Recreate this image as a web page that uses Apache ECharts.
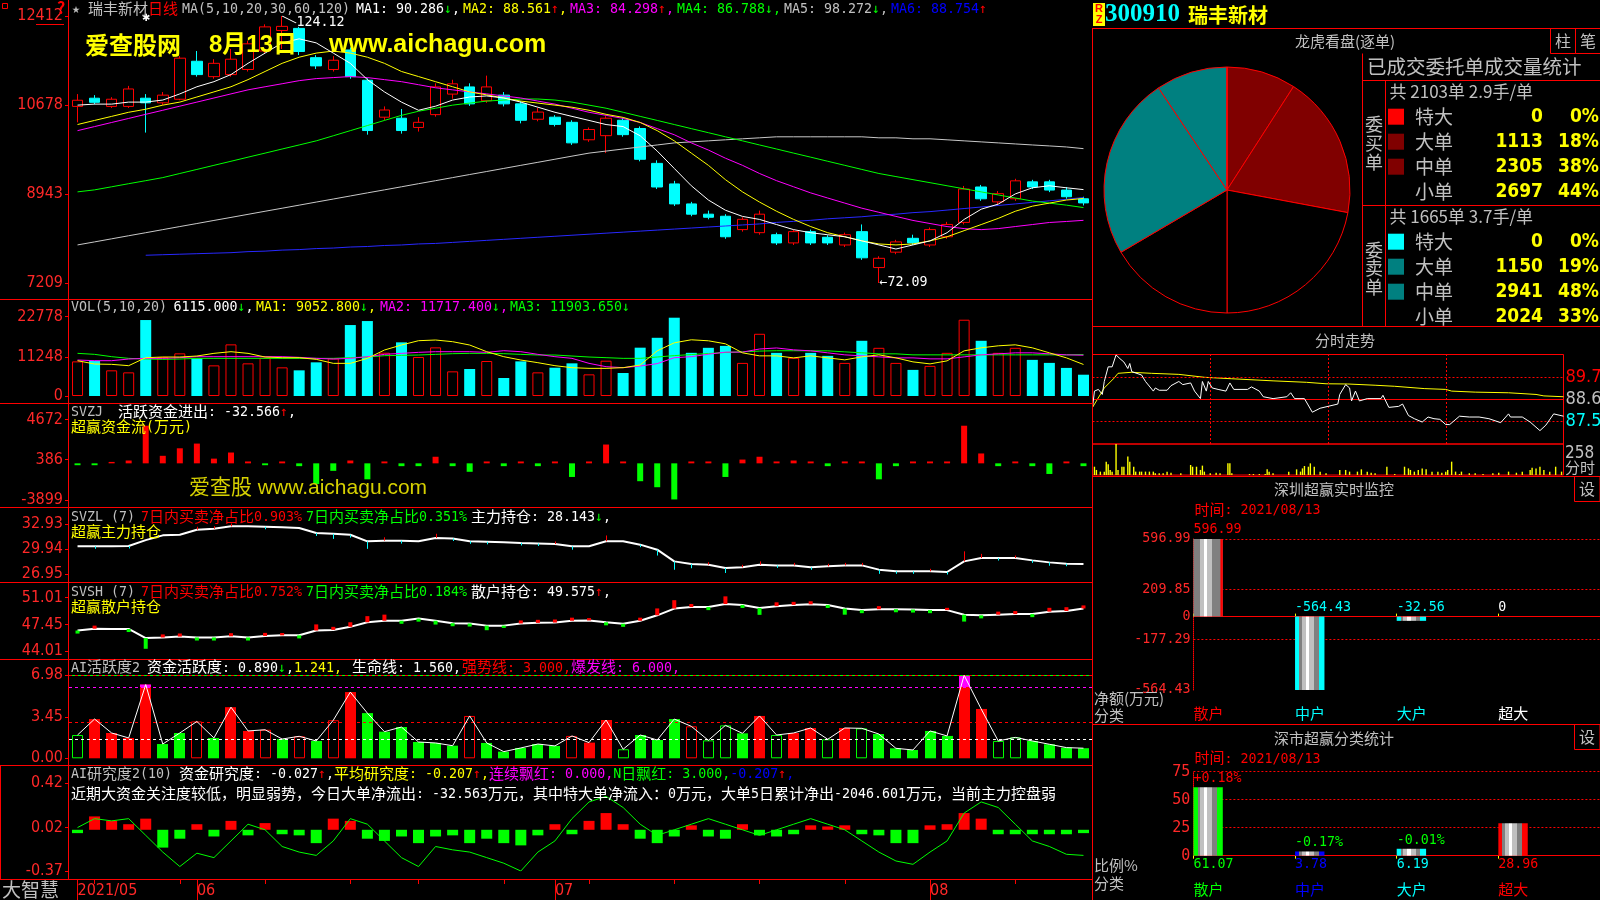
<!DOCTYPE html>
<html><head><meta charset="utf-8">
<script src="https://cdn.jsdelivr.net/npm/echarts@6/dist/echarts.min.js"></script>
<style>html,body{margin:0;padding:0;background:#000;}#main{width:1600px;height:900px;}</style>
</head><body><div id="main"></div>
<script>
// ================= DATA =================
const dates = ['2021-05-21','2021-05-24','2021-05-25','2021-05-26','2021-05-27','2021-05-28','2021-05-31',
'2021-06-01','2021-06-02','2021-06-03','2021-06-04','2021-06-07','2021-06-08','2021-06-09','2021-06-10','2021-06-11','2021-06-15','2021-06-16','2021-06-17','2021-06-18','2021-06-21','2021-06-22','2021-06-23','2021-06-24','2021-06-25','2021-06-28','2021-06-29','2021-06-30',
'2021-07-01','2021-07-02','2021-07-05','2021-07-06','2021-07-07','2021-07-08','2021-07-09','2021-07-12','2021-07-13','2021-07-14','2021-07-15','2021-07-16','2021-07-19','2021-07-20','2021-07-21','2021-07-22','2021-07-23','2021-07-26','2021-07-27','2021-07-28','2021-07-29','2021-07-30',
'2021-08-02','2021-08-03','2021-08-04','2021-08-05','2021-08-06','2021-08-09','2021-08-10','2021-08-11','2021-08-12','2021-08-13'];
// [open, close, low, high]
const kData = [
[106.5,107.7,103.4,108.9],[108.1,107.3,106.9,108.7],[106.5,107.9,106.2,108.3],[106.5,109.9,106.2,110.5],[108.1,107.2,101.4,108.9],
[107.2,108.7,106.8,109.3],[107.9,115.9,107.7,116.3],[115.3,112.7,112.3,117.3],[112.3,114.9,111.9,115.7],[112.7,115.7,112.3,117.7],
[113.7,118.7,113.3,119.3],[117.3,122.0,116.9,122.5],[121.3,122.1,117.7,124.12],[121.7,117.2,116.5,122.0],[116.0,114.4,113.8,116.5],
[113.7,115.5,113.3,116.3],[117.5,112.3,111.9,118.0],[111.6,101.8,101.0,112.0],[104.4,105.8,103.8,106.5],[104.2,101.8,101.2,106.0],
[102.4,103.4,101.6,104.4],[104.9,110.3,104.5,111.0],[108.9,110.9,108.0,111.7],[110.3,107.0,106.6,111.0],[107.6,110.3,107.2,112.5],
[108.7,107.0,106.5,109.3],[107.0,103.8,103.2,107.5],[104.0,105.4,103.6,106.2],[104.4,103.0,102.6,104.8],[103.4,99.4,99.0,103.8],
[100.0,102.0,99.6,102.4],[100.8,104.2,97.4,104.6],[103.8,101.0,100.6,104.2],[102.2,96.2,95.8,102.6],[95.4,90.8,90.4,96.0],
[91.4,87.5,87.1,92.0],[87.5,85.5,85.1,87.9],[85.5,84.9,84.5,86.2],[85.1,81.1,80.7,85.5],[82.5,84.5,82.1,84.9],
[81.9,85.5,81.5,86.2],[81.5,79.9,79.5,81.9],[79.9,82.1,79.5,82.5],[82.1,79.9,79.5,82.5],[81.0,79.9,79.5,81.4],
[79.5,81.5,79.1,81.9],[82.1,77.0,76.6,83.5],[75.1,76.9,72.09,77.3],[78.1,80.1,77.7,80.5],[80.8,79.9,79.5,81.5],
[79.5,82.5,79.1,82.9],[81.1,83.5,80.7,84.0],[83.9,90.4,83.5,91.0],[90.8,88.5,88.1,91.2],[87.9,89.5,87.5,90.0],
[88.5,92.0,88.1,92.4],[91.8,90.8,90.4,92.2],[91.8,90.2,89.8,92.2],[90.2,88.9,88.5,90.8],[88.5,87.7,87.2,88.9]];
const ma5 = [106.75,106.95,106.95,107.34,107.34,107.74,108.94,110.33,111.32,112.71,114.90,116.89,118.88,119.67,118.88,116.89,114.90,111.72,109.33,107.34,105.75,106.55,107.74,108.34,108.54,108.14,107.34,106.35,105.36,104.56,103.77,102.97,102.57,100.78,97.80,94.42,91.04,88.26,86.27,85.07,84.48,83.48,82.49,81.89,81.49,81.10,80.30,79.51,78.71,79.51,80.30,81.89,84.48,86.47,87.46,89.45,90.64,91.04,90.64,90.29];
const ma10 = [102.97,103.77,104.56,105.36,105.95,106.75,107.34,108.34,109.33,110.33,111.72,113.31,114.90,116.09,116.89,117.29,116.89,116.09,114.90,113.31,112.32,111.32,110.33,109.33,108.74,108.14,107.54,107.15,106.75,106.35,105.75,104.96,104.36,103.37,101.78,99.79,97.40,95.02,92.23,89.85,87.86,86.07,84.48,83.09,81.89,81.10,80.30,79.70,79.51,79.70,80.30,81.10,82.29,83.48,84.68,86.07,87.06,87.66,88.26,88.56];
const ma20 = [101.78,102.57,103.37,104.16,104.96,105.75,106.55,107.34,108.14,108.94,109.73,110.33,110.92,111.52,111.92,112.12,112.32,112.12,111.72,111.32,110.73,110.13,109.73,109.33,108.94,108.54,108.14,107.54,106.95,106.15,105.36,104.76,104.16,103.37,102.17,100.98,99.39,98.00,96.41,95.02,93.43,92.03,90.84,89.65,88.65,87.66,86.67,85.87,85.07,84.28,83.68,83.09,82.69,82.49,82.69,83.09,83.48,83.88,84.08,84.30];
const ma30 = [89.85,90.24,90.84,91.44,92.03,92.63,93.43,94.22,95.02,95.81,96.61,97.40,98.20,98.99,99.79,100.78,101.78,102.77,103.77,104.76,105.56,106.15,106.75,107.15,107.54,107.74,107.94,107.94,107.74,107.34,106.75,106.15,105.36,104.56,103.77,102.97,102.17,101.38,100.58,99.79,98.99,98.20,97.40,96.61,95.81,95.02,94.22,93.43,92.83,92.23,91.64,91.04,90.44,89.85,89.25,88.65,88.06,87.66,87.26,86.79];
const ma60 = [79.51,80.10,80.70,81.30,81.89,82.49,83.09,83.68,84.28,84.87,85.47,86.07,86.66,87.26,87.86,88.45,89.05,89.65,90.24,90.84,91.44,92.03,92.63,93.23,93.82,94.42,95.02,95.61,96.21,96.81,97.40,97.80,98.20,98.60,98.99,99.39,99.59,99.79,99.99,100.19,100.38,100.58,100.58,100.58,100.58,100.58,100.58,100.38,100.38,100.19,100.19,99.99,99.79,99.59,99.39,99.19,98.99,98.80,98.60,98.27];
const ma120 = ['-','-','-','-',77.5,77.6,77.7,77.8,77.9,78.0,78.2,78.3,78.5,78.6,78.8,78.9,79.1,79.2,79.4,79.5,79.7,79.8,80.0,80.2,80.4,80.6,80.8,81.0,81.2,81.4,81.6,81.8,82.0,82.2,82.4,82.6,82.8,83.0,83.2,83.4,83.6,83.9,84.1,84.3,84.6,84.8,85.0,85.3,85.5,85.8,86.0,86.3,86.6,86.9,87.2,87.5,87.8,88.1,88.4,88.75];
const maHeader = [['MA1: 90.286','↓'],['MA2: 88.561','↑'],['MA3: 84.298','↑'],['MA4: 86.788','↓'],['MA5: 98.272','↓'],['MA6: 88.754','↑']];

const vol = [9950,10140,7370,6790,21820,11200,12250,10810,8800,14830,9380,11000,8230,7370,9670,10810,20380,21530,12440,15410,11200,13970,7080,7750,10050,5170,9950,6790,8130,9380,6220,10140,6600,13880,16720,22490,12400,13840,14400,9510,17870,12400,10960,12400,11530,9510,15860,13840,9510,7500,8650,12400,21910,15860,12400,13840,10380,9510,8070,6115];
const volMa5 = [10144,9187,9092,8709,11006,11197,11197,11484,12250,12728,12250,11197,11006,11006,10527,9379,9379,10814,13207,14642,15886,16077,15599,14642,12728,11293,10336,9570,8709,8135,7943,7943,8135,8900,12974,15280,16145,15857,14992,12397,11532,11532,10955,11532,10955,10379,11244,11820,10955,9802,9226,10091,12974,13838,14415,14703,13838,12397,10955,9053];
const volMa10 = [10336,10144,10144,10623,10814,10814,11006,11293,11293,11293,11293,11293,11293,11101,10814,10623,10814,11293,11963,12250,12537,12728,12728,12728,12537,13015,12728,11963,11293,10814,9379,8422,8135,8600,9300,11000,11300,12000,12600,12600,13500,13800,13262,12974,12397,11820,11532,11244,10955,10955,10667,10667,11244,11820,12109,12397,12397,12109,11820,11717];
const volMa20 = [12250,11963,11293,10814,10623,10527,10623,10814,10814,10814,10814,10814,10814,10814,10814,10814,11006,11197,11580,11676,11772,11963,12154,12250,12250,12154,11963,11772,11772,11484,11197,11006,10814,10814,11200,11600,11900,12200,12500,12700,12900,13000,13000,12974,12974,12685,12397,12109,12109,11820,11820,11820,11820,11820,11820,11820,11820,11820,11820,11904];

const svzj = [-200,-200,150,300,4000,800,1600,2100,500,1150,200,-200,200,-300,-2200,-800,300,-1700,200,-300,-300,700,-300,-900,200,-300,200,-300,200,-1450,200,2000,200,-1900,-2540,-3840,200,200,-1450,400,700,200,300,200,-300,200,200,-1700,-300,200,200,200,4000,1050,-300,200,-300,-1130,200,-300];

const svzl = [30.26,30.26,30.26,30.30,31.00,31.57,31.65,32.25,32.37,32.65,32.65,32.60,32.53,32.45,31.85,31.75,31.65,30.86,30.94,30.94,30.86,31.26,31.20,30.86,30.80,30.74,30.66,30.60,30.54,30.26,30.26,30.86,30.86,30.46,29.86,28.46,28.14,28.06,27.67,27.75,28.06,27.98,27.98,27.75,27.87,27.98,27.98,27.47,27.27,27.27,27.27,27.19,28.46,28.86,28.86,28.86,28.58,28.34,28.18,28.14];
const svzlTick = [0,-0.3,0,-0.3,0,0,0,0.35,0.3,0.35,0,-0.3,0,0,-0.35,-0.6,-0.35,-0.9,0.4,-0.35,0,0.5,-0.3,-0.3,-0.3,0,-0.3,-0.3,0.3,-0.4,0,0.7,0,-0.3,-0.7,-1.0,-0.5,0.3,-0.6,0.3,0.4,-0.3,0.3,-0.3,0.3,0.3,0.3,-0.5,-0.3,-0.3,0.3,-0.3,1.2,0.5,-0.3,0.3,-0.3,-0.4,-0.3,0];
const svsh = [46.69,46.93,46.89,46.89,45.70,45.78,45.90,45.78,45.78,45.94,45.78,45.98,46.06,46.06,46.69,46.77,47.17,47.77,47.97,47.97,48.25,47.97,47.65,47.61,47.33,47.33,47.61,47.69,47.73,47.97,48.01,47.77,47.57,47.97,48.68,49.56,49.76,49.76,50.16,50.04,49.64,49.88,50.04,50.12,50.04,49.56,49.36,49.48,49.48,49.44,49.36,49.36,48.76,48.68,48.76,48.84,48.84,49.16,49.24,49.575];
const svshTick = [-0.4,0.4,0,-0.4,-1.4,0.4,0.4,-0.4,-0.4,0.4,-0.4,0.4,0.3,-0.4,0.8,0.4,0.6,0.8,0.8,-0.4,-0.4,-0.5,-0.4,-0.4,-0.6,-0.3,0.4,0.4,0.4,0.4,0.3,-0.4,-0.4,0.4,0.9,1.1,0.4,-0.4,1.0,-0.4,-0.9,0.5,0.4,0.4,-0.4,-0.8,-0.4,0.4,-0.4,-0.4,-0.4,0.3,-0.9,-0.4,0.4,0.4,-0.4,0.5,0.5,0.4];

const aiAct = [1.96,3.3,2.13,1.71,6.2,1.2,2.13,3.1,1.71,4.3,2.3,2.4,1.62,1.85,1.46,3.2,5.57,3.8,2.24,2.63,1.37,1.29,1.06,3.56,1.29,0.56,0.87,1.2,1.04,1.88,1.32,3.22,0.76,1.96,1.54,3.3,2.69,1.51,2.77,2.1,3.56,1.96,2.13,2.55,1.6,2.55,2.52,2.04,0.84,0.7,2.3,1.88,6.98,4.15,1.46,1.76,1.46,1.18,0.9,0.85];
// R/G filled red/green, r/g hollow red/green
const aiActType = 'gRRRRGGrGRRrGrGrRGGGGGGrGGGGGrRRgGGGrggGRgRRgRgGGGGGRRggGGGG';

const aiRes = [-0.03,0.12,0.08,0.05,0.1,-0.16,-0.08,0.05,-0.06,0.08,-0.05,0.06,-0.04,-0.05,-0.12,0.1,0.08,-0.08,-0.1,-0.06,-0.12,-0.06,-0.05,-0.12,-0.08,-0.12,-0.14,-0.05,0.05,-0.04,0.08,0.15,0.05,-0.08,-0.12,-0.06,0.04,-0.06,-0.08,0.05,-0.05,-0.06,-0.04,0.04,0.03,0.04,-0.04,-0.05,-0.12,-0.12,0.04,0.05,0.15,0.1,-0.04,-0.04,-0.04,-0.04,-0.04,-0.03];
const aiResLine = [0.02,0.1,0.08,0.1,-0.05,-0.2,-0.33,-0.21,-0.25,-0.1,0.05,0.0,-0.15,-0.2,-0.23,-0.1,0.1,0.05,-0.1,-0.25,-0.33,-0.15,-0.18,-0.2,-0.25,-0.3,-0.37,-0.2,-0.1,0.1,0.25,0.3,0.2,0.05,-0.05,0.0,0.05,0.1,0.05,0.0,-0.05,0.0,0.05,0.1,0.05,0.0,-0.1,-0.2,-0.28,-0.31,-0.2,-0.1,0.15,0.25,0.2,0.05,-0.1,-0.15,-0.22,-0.23];

// intraday [minute, price]
const tsPrice = [[0,88.27],[1,89.05],[3,89.13],[5,88.89],[6,89.51],[8,90.21],[10,90.21],[12,90.78],[14,90.60],[16,90.44],[18,90.13],[19,90.37],[20,89.98],[25,89.82],[27,89.51],[31,89.05],[32,89.20],[34,89.09],[38,89.09],[40,89.31],[44,89.51],[46,89.36],[50,89.44],[52,89.05],[55,88.69],[56,89.51],[58,89.05],[59,89.51],[61,89.20],[64,89.13],[68,89.05],[70,89.44],[72,89.13],[79,89.13],[81,89.25],[85,89.05],[87,88.78],[92,88.69],[99,88.78],[101,88.97],[103,88.69],[108,88.69],[112,88.04],[116,88.23],[120,88.32],[125,88.43],[126,88.89],[129,89.36],[131,89.20],[132,88.58],[134,89.05],[136,88.58],[140,88.69],[147,88.69],[148,88.85],[151,88.27],[156,88.32],[158,88.43],[161,87.88],[164,87.73],[168,87.57],[171,87.81],[174,87.73],[177,87.70],[180,87.45],[182,87.45],[187,87.85],[192,87.81],[197,87.81],[202,87.73],[208,87.54],[212,87.96],[213,87.81],[219,87.81],[223,87.57],[228,87.16],[231,87.42],[235,87.96],[240,87.85]];
const tsAvg = [[0,88.27],[6,89.20],[11,89.67],[13,89.90],[20,89.95],[30,89.90],[44,89.85],[57,89.71],[71,89.64],[92,89.54],[109,89.47],[119,89.40],[130,89.39],[144,89.33],[154,89.28],[169,89.17],[180,89.13],[183,89.05],[195,89.00],[212,88.97],[226,88.89],[230,88.82],[240,88.78]];
const tsVol = [[1,69],[2,42],[4,28],[6,28],[7,111],[8,89],[9,42],[10,28],[12,258],[13,42],[15,69],[16,69],[18,153],[19,111],[21,69],[22,28],[24,28],[25,28],[27,28],[29,28],[31,28],[32,14],[34,14],[36,14],[38,28],[40,19],[45,14],[50,83],[51,69],[53,69],[55,42],[56,78],[57,28],[60,14],[63,19],[65,14],[69,97],[70,97],[71,14],[80,8],[82,8],[85,8],[88,8],[89,47],[90,28],[92,14],[100,28],[104,47],[106,28],[107,55],[108,75],[110,69],[111,97],[113,69],[116,28],[119,14],[126,42],[129,42],[131,28],[135,28],[137,47],[140,28],[142,19],[144,14],[150,69],[154,8],[159,69],[161,55],[162,42],[164,28],[166,42],[168,55],[170,47],[173,28],[176,28],[178,19],[180,28],[181,42],[183,111],[185,28],[187,8],[188,28],[192,14],[195,14],[199,8],[204,14],[207,19],[212,28],[216,19],[219,28],[223,42],[224,61],[226,55],[228,69],[230,42],[233,28],[236,69],[239,28]];
const tsTicks = [87.59, 88.66, 89.73];

// 龙虎看盘 (逐单)
const pieNames = ['买特大','买大单','买中单','买小单','卖小单','卖中单','卖大单','卖特大'];
const pieValues = [0,1113,2305,2697,2024,2941,1150,0];
const buyRows = [['特大','0','0%'],['大单','1113','18%'],['中单','2305','38%'],['小单','2697','44%']];
const sellRows = [['特大','0','0%'],['大单','1150','19%'],['中单','2941','48%'],['小单','2024','33%']];

// 深圳超赢实时监控
const szCats = ['散户','中户','大户','超大'];
const szNet = [596.99,-564.43,-32.56,0];
const szTicks = [-564.43,-177.29,0,209.85,596.99];
// 深市超赢分类统计
const smPct = [61.07,3.78,6.19,28.96];
const smChg = ['+0.18%','-0.17%','-0.01%',''];
const smTicks = [0,25,50,75];

// ================= STYLE CONSTANTS =================
const RED='#ff0000', CYAN='#00ffff', GRAY='#c0c0c0', YEL='#ffff00', MAG='#ff00ff', GRN='#00ff00', BLUE='#0000ff', WHITE='#ffffff', AXR='#ff2828';
const FM = "'DejaVu Sans Mono','Noto Sans CJK SC',monospace";
const FC = "'Noto Sans CJK SC','Noto Sans',sans-serif";
const FN = "'Liberation Sans Narrow','DejaVu Sans Condensed','Noto Sans',sans-serif";
const fM = s => s + 'px ' + FM, fC = s => s + 'px ' + FC, fN = s => s + 'px ' + FN;
const F_ASC = fM(13.3), F_CJK = fC(15);

const L0 = 69, W0 = 1023;

// ================= GRAPHIC HELPERS =================
const G = [];
function T(x, y, text, fill, font, align, z) {
  G.push({type:'text', x:x, y:y, z: z||50, silent:true,
    style:{text:text, fill:fill, font:font||F_ASC, textAlign:align||'left', textVerticalAlign:'middle', align:align||'left', verticalAlign:'middle'}});
}
// rich text with SimSun-like metrics: CJK runs 15px, ASCII runs monospace 8px
const isCJK = ch => /[\u3000-\u9fff\uff00-\uffef]/.test(ch);
function RT(x, y, segs, z) {
  const rich = {}; let text = ''; let n = 0;
  segs.forEach(sg => {
    let cur = '', cc = null;
    const flush = () => { if (!cur) return; const k = 's' + (n++);
      rich[k] = cc ? {fill: sg[1], fontFamily: FC, fontSize: 15, lineHeight: 18, verticalAlign: 'middle', padding:[0,0,0,0]}
                   : {fill: sg[1], fontFamily: FM, fontSize: 13.3, lineHeight: 18, verticalAlign: 'middle', padding:[4,0,0,0]};
      text += '{' + k + '|' + cur + '}'; };
    for (const ch of sg[0]) { const c = isCJK(ch); if (cc !== null && c !== cc) { flush(); cur = ''; } cur += ch; cc = c; }
    flush();
  });
  G.push({type:'text', x:x, y:y-1, z: z||50, silent:true,
    style:{text:text, rich:rich, textAlign:'left', textVerticalAlign:'middle', align:'left', verticalAlign:'middle'}});
}
function Ln(x1,y1,x2,y2,stroke,dash,z) {
  G.push({type:'line', z: z||40, silent:true, shape:{x1,y1,x2,y2}, style:{stroke:stroke||RED, lineWidth:1, lineDash: dash||null}});
}
function Rc(x,y,w,h,stroke,fill,z) {
  G.push({type:'rect', z: z||40, silent:true, shape:{x,y,width:w,height:h}, style:{stroke:stroke||null, fill:fill||'none', lineWidth:1}});
}

// ---- left panel frame ----
Ln(68.5,0,68.5,880);
[299.5,403.5,507.5,582.5,659.5,765.5,879.5].forEach(y => Ln(0,y,1092,y));
Rc(0.5,765.5,68,114,RED);
Rc(2.5,3.5,5,5,RED);
T(61,8,'?',RED,'bold 16px ' + FC,'center');
Ln(36,24.5,64,24.5,RED);

// header row 1
RT(72,9,[['★ ',GRAY],['瑞丰新材',GRAY],['日线',RED]]);
RT(182,9,[['MA(5,10,20,30,60,120)',GRAY]]);
const maCols = [WHITE,YEL,MAG,GRN,GRAY,BLUE];
maHeader.forEach((h,k) => {
  const segs = [[h[0],maCols[k]],[h[1],h[1]==='↑'?RED:GRN]];
  if (k<5) segs.push([',',maCols[k]]);
  RT(356 + 107*k, 9, segs);
});
// watermark
T(85,45,'爱查股网',YEL,'bold 24px ' + FC,'left',60);
T(209,45,'8月13日',YEL,"bold 24px 'Liberation Sans','Noto Sans CJK SC',sans-serif",'left',60);
T(329,45,'www.aichagu.com',YEL,"bold 25px 'Liberation Sans',sans-serif",'left',60);
T(189,488,'爱查股 www.aichagu.com','#d6d000',"21px 'Liberation Sans','Noto Sans CJK SC',sans-serif",'left',60);

// VOL header
RT(71,307,[['VOL(5,10,20)',GRAY]]);
RT(173.5,307,[['6115.000',WHITE],['↓',GRN],[',',WHITE]]);
RT(256,307,[['MA1: 9052.800',YEL],['↓',GRN],[',',YEL]]);
RT(380,307,[['MA2: 11717.400',MAG],['↓',GRN],[',',MAG]]);
RT(510,307,[['MA3: 11903.650',GRN],['↓',GRN]]);
// SVZJ
RT(71,412,[['SVZJ',GRAY]]);
RT(118,412,[['活跃资金进出: -32.566',WHITE],['↑',RED],[',',WHITE]]);
RT(71,427,[['超赢资金流(万元)',YEL]]);
// SVZL
RT(71,517,[['SVZL (7)',GRAY]]);
RT(141,517,[['7日内买卖净占比0.903%',RED]]);
RT(306,517,[['7日内买卖净占比0.351%',GRN]]);
RT(471,517,[['主力持仓: 28.143',WHITE],['↓',GRN],[',',WHITE]]);
RT(71,532,[['超赢主力持仓',YEL]]);
// SVSH
RT(71,592,[['SVSH (7)',GRAY]]);
RT(141,592,[['7日内买卖净占比0.752%',RED]]);
RT(306,592,[['7日内买卖净占比0.184%',GRN]]);
RT(471,592,[['散户持仓: 49.575',WHITE],['↑',RED],[',',WHITE]]);
RT(71,607,[['超赢散户持仓',YEL]]);
// AI活跃度
RT(71,667.5,[['AI活跃度2',GRAY]]);
RT(147,667.5,[['资金活跃度: 0.890',WHITE],['↓',GRN],[',',WHITE],['1.241,',YEL]]);
RT(352,667.5,[['生命线: 1.560,',WHITE]]);
RT(462,667.5,[['强势线: 3.000,',RED]]);
RT(571,667.5,[['爆发线: 6.000,',MAG]]);
// AI研究度
RT(71,774,[['AI研究度2(10)',GRAY]]);
RT(179,774,[['资金研究度: -0.027',WHITE],['↑',RED],[',',WHITE],['平均研究度: -0.207',YEL],['↑',RED],[',',YEL],
  ['连续飘红: 0.000,',MAG],['N日飘红: 3.000,',GRN],['-0.207',BLUE],['↑',RED],[',',BLUE]]);
RT(71,794,[['近期大资金关注度较低，明显弱势，今日大单净流出: -32.563万元，其中特大单净流入：0万元，大单5日累计净出-2046.601万元，当前主力控盘弱',WHITE]]);
// bottom
T(2,890,'大智慧',GRAY,fC(19));

// ---- right panel ----
G.push({type:'rect', z:40, silent:true, shape:{x:1093,y:3,width:12,height:23}, style:{fill:YEL}});
T(1099,9,'R',RED,"bold 11px 'Liberation Sans',sans-serif",'center');
T(1099,20,'Z',RED,"bold 11px 'Liberation Sans',sans-serif",'center');
T(1105,15,'300910',CYAN,"bold 25px 'Liberation Serif',serif");
T(1188,15,'瑞丰新材',YEL,'bold 20px ' + FC);
Ln(1092,28.5,1600,28.5);
Ln(1092.5,28.5,1092.5,900);
T(1345,41.5,'龙虎看盘(逐单)',GRAY,fC(15),'center');
Rc(1550.5,28.5,25,25,RED); T(1563,41,'柱',GRAY,fC(16),'center');
Rc(1575.5,28.5,25,25,RED); T(1588,41,'笔',GRAY,fC(16),'center');
Ln(1362.5,53.5,1362.5,326.5);
T(1367,66.7,'已成交委托单成交量统计',GRAY,fC(19.5));
Ln(1362,80.5,1600,80.5);
Ln(1385.5,80.5,1385.5,326.5);
Ln(1362,205.5,1600,205.5);
Ln(1092,326.5,1600,326.5);
T(1389.5,91.7,'共 2103单 2.9手/单',GRAY,fC(17));
T(1389.5,216.7,'共 1665单 3.7手/单',GRAY,fC(17));
['委','买','单'].forEach((c,k)=>T(1374,124+19.3*k,c,GRAY,fC(18),'center'));
['委','卖','单'].forEach((c,k)=>T(1374,250+18.5*k,c,GRAY,fC(18),'center'));
const buyCols = [RED,'#800000','#800000',null], sellCols=[CYAN,'#008080','#008080',null];
const VALF = "bold 19px " + FN;
buyRows.forEach((r,k)=>{ const y = 116.7 + 25*k;
  if (buyCols[k]) G.push({type:'rect', z:40, silent:true, shape:{x:1388,y:y-8,width:16,height:16}, style:{fill:buyCols[k]}});
  T(1415,y,r[0],GRAY,fC(19)); T(1543,y,r[1],YEL,VALF,'right'); T(1599,y,r[2],YEL,VALF,'right'); });
sellRows.forEach((r,k)=>{ const y = 241.7 + 25*k;
  if (sellCols[k]) G.push({type:'rect', z:40, silent:true, shape:{x:1388,y:y-8,width:16,height:16}, style:{fill:sellCols[k]}});
  T(1415,y,r[0],GRAY,fC(19)); T(1543,y,r[1],YEL,VALF,'right'); T(1599,y,r[2],YEL,VALF,'right'); });
// 分时
T(1345,340,'分时走势',GRAY,fC(15),'center');
T(1565,454,'258',GRAY,fN(17));
T(1565,467,'分时',GRAY,fC(15));
Ln(1092,476.5,1600,476.5);
// 深圳超赢实时监控
T(1334,489.3,'深圳超赢实时监控',GRAY,fC(15),'center');
Rc(1574.5,476.5,25.5,25,RED); T(1587,489,'设',GRAY,fC(16),'center');
RT(1194.4,510,[['时间: 2021/08/13',RED]]);
T(1094,698.3,'净额(万元)',GRAY,fC(15));
T(1094,715,'分类',GRAY,fC(15));
Ln(1092,724.5,1600,724.5);
// 深市超赢分类统计
T(1334,738.3,'深市超赢分类统计',GRAY,fC(15),'center');
Rc(1574.5,724.5,25.5,25,RED); T(1587,737,'设',GRAY,fC(16),'center');
RT(1194.4,758.3,[['时间: 2021/08/13',RED]]);
T(1094,865,'比例%',GRAY,fC(15));
T(1094,883.3,'分类',GRAY,fC(15));

// ================= DERIVED HELPERS =================
const isUp = i => kData[i][1] >= kData[i][0];
const dayNo = s => Date.UTC(+s.slice(0,4), +s.slice(5,7)-1, +s.slice(8,10)) / 864e5;
const weekNo = s => Math.floor((dayNo(s) + 3) / 7);
const weekStart = dates.map((d,i) => i>0 && weekNo(d) !== weekNo(dates[i-1]));
const monthStart = dates.map((d,i) => i===0 || d.slice(5,7) !== dates[i-1].slice(5,7));

// ================= AXES =================
const GB = {containLabel:false, outerBoundsMode:'none'};
const grids = [
  {left:L0, width:W0, top:16, height:267},
  {left:L0, width:W0, top:316.7, height:79.3},
  {left:L0, width:W0, top:419.4, height:80.6},
  {left:L0, width:W0, top:524, height:50},
  {left:L0, width:W0, top:597.5, height:53.5},
  {left:L0, width:W0, top:675.3, height:83},
  {left:L0, width:W0, top:783, height:88},
  {left:L0, width:W0, top:879, height:1},
  {left:1092.5, width:471, top:354.5, height:89.5, show:true, borderColor:RED, borderWidth:1, backgroundColor:'transparent'},
  {left:1092.5, width:471, top:444, height:31, show:true, borderColor:RED, borderWidth:1, backgroundColor:'transparent'},
  {left:1193.4, width:406.6, top:539, height:151},
  {left:1193.4, width:406.6, top:771.7, height:84}
].map(g => Object.assign({}, GB, g));
const xAxes = [];
for (let k=0;k<7;k++) xAxes.push({type:'category', gridIndex:k, data:dates, show:false, boundaryGap:true});
xAxes.push({type:'category', gridIndex:7, data:dates, boundaryGap:true, position:'bottom',
  axisLine:{show:false}, axisLabel:{show:false}, splitLine:{show:false},
  axisTick:{show:true, alignWithLabel:true, length:4, interval:(i)=>weekStart[i], lineStyle:{color:RED}}});
xAxes.push({type:'category', gridIndex:7, data:dates, boundaryGap:true, position:'bottom',
  axisLine:{show:false}, splitLine:{show:false},
  axisTick:{show:true, alignWithLabel:true, length:20, interval:(i)=>monthStart[i], lineStyle:{color:RED}},
  axisLabel:{show:true, interval:(i)=>monthStart[i], align:'left', margin:3, color:AXR, fontFamily:FN, fontSize:16,
    formatter:(v,i)=> i===0 ? v.slice(0,4)+'/'+v.slice(5,7) : v.slice(5,7)}});
xAxes.push({type:'value', gridIndex:8, min:0, max:240, show:false});
xAxes.push({type:'value', gridIndex:9, min:0, max:240, show:false});
xAxes.push({type:'category', gridIndex:10, data:szCats.concat(['']), boundaryGap:false, position:'bottom',
  axisLine:{lineStyle:{color:YEL}}, axisTick:{inside:true, length:3, lineStyle:{color:YEL}},
  axisLabel:{margin:16, align:'left', fontFamily:FC, fontSize:15, color:(v)=>({'散户':RED,'中户':CYAN,'大户':CYAN,'超大':WHITE})[v]||WHITE},
  splitLine:{show:false}});
xAxes.push({type:'category', gridIndex:11, data:szCats.concat(['']), boundaryGap:false, position:'bottom', offset:19.3,
  axisLine:{lineStyle:{color:YEL}}, axisTick:{inside:false, length:3, lineStyle:{color:YEL}},
  axisLabel:{margin:7, align:'left', fontFamily:FC, fontSize:15, color:(v)=>({'散户':GRN,'中户':BLUE,'大户':CYAN,'超大':RED})[v]||WHITE},
  splitLine:{show:false}});

function yLeft(grid, min, max, ticks, fmt) {
  return {type:'value', gridIndex:grid, min:min, max:max, position:'left',
    axisLine:{show:false}, splitLine:{show:false},
    axisTick:{show:true, customValues:ticks, length:4, lineStyle:{color:RED}},
    axisLabel:{show:true, customValues:ticks, showMinLabel:true, showMaxLabel:true, formatter:fmt, color:AXR, fontFamily:FN, fontSize:16, margin:6}};
}
const priceTicks = [72.09, 89.43, 106.78, 124.12];
const volTicks = [0, 11248, 22778];
const svzjTicks = [-3899, 386, 4672];
const svzlTicks = [26.95, 29.94, 32.93];
const svshTicks = [44.01, 47.45, 51.01];
const actTicks = [0, 3.45, 6.98];
const resTicks = [-0.37, 0.02, 0.42];
const yAxes = [
  yLeft(0, 72.09, 124.12, priceTicks, v=>Math.round(v*100)),
  yLeft(1, 0, 22778, volTicks, v=>String(v)),
  yLeft(2, -3899, 4672, svzjTicks, v=>String(v)),
  yLeft(3, 26.95, 32.93, svzlTicks, v=>v.toFixed(2)),
  yLeft(4, 44.01, 51.01, svshTicks, v=>v.toFixed(2)),
  yLeft(5, 0, 6.98, actTicks, v=>v.toFixed(2)),
  yLeft(6, -0.37, 0.42, resTicks, v=>v.toFixed(2)),
  {type:'value', gridIndex:7, show:false},
  {type:'value', gridIndex:8, min:86.52, max:90.80, position:'right', axisLine:{show:false}, splitLine:{show:false}, axisTick:{show:false},
    axisLabel:{show:true, customValues:tsTicks, margin:2, fontFamily:FN, fontSize:18, formatter:v=>v.toFixed(2), color:(v)=> +v>88.7?RED:(+v<88.6?CYAN:GRAY)}},
  {type:'value', gridIndex:9, min:0, max:258, show:false},
  {type:'value', gridIndex:10, min:-564.43, max:596.99, position:'left', splitLine:{show:false},
    axisLine:{show:true, lineStyle:{color:RED, type:'dotted'}}, axisTick:{show:false},
    axisLabel:{customValues:szTicks, showMinLabel:true, showMaxLabel:true, margin:3, fontFamily:FM, fontSize:13.3, color:AXR, formatter:v=> v===0?'0':v.toFixed(2)}},
  {type:'value', gridIndex:11, min:0, max:75, position:'left', splitLine:{show:false},
    axisLine:{show:true, lineStyle:{color:RED, type:'dotted'}}, axisTick:{show:false},
    axisLabel:{customValues:smTicks, showMinLabel:true, showMaxLabel:true, margin:3, fontFamily:FM, fontSize:15, color:AXR, formatter:v=>String(v)}}
];

// ================= SERIES =================
function ln(xi, data, color, width, extra) {
  return Object.assign({type:'line', xAxisIndex:xi, yAxisIndex:xi, data:data, symbol:'none', silent:true, z:3,
    lineStyle:{color:color, width:width||1}}, extra||{});
}
const series = [];
series.push({type:'candlestick', xAxisIndex:0, yAxisIndex:0, data:kData, barWidth:11, silent:true, z:2,
  itemStyle:{color:'#000', color0:CYAN, borderColor:RED, borderColor0:CYAN, borderWidth:1},
  markPoint:{silent:true, animation:false, data:[
    {coord:[12,124.12], symbol:'path://M0,0L14,7', symbolSize:[14,7], symbolOffset:[7,3.5], itemStyle:{color:'transparent', borderColor:WHITE, borderWidth:1},
      label:{show:true, formatter:'124.12', position:[15,7], align:'left', verticalAlign:'middle', color:WHITE, fontFamily:FM, fontSize:13.3}},
    {coord:[47,72.09], symbol:'circle', symbolSize:1, itemStyle:{color:'transparent'},
      label:{show:true, formatter:'←72.09', position:'right', distance:0, color:WHITE, fontFamily:FM, fontSize:13.3}},
    {coord:[4,123.6], symbol:'circle', symbolSize:1, itemStyle:{color:'transparent'},
      label:{show:true, formatter:'✱', position:'inside', color:WHITE, fontSize:10}}
  ]}});
series.push(ln(0, ma120, '#2828ff'));
series.push(ln(0, ma60, '#c8c8c8'));
series.push(ln(0, ma30, GRN));
series.push(ln(0, ma20, MAG));
series.push(ln(0, ma10, YEL));
series.push(ln(0, ma5, WHITE));
// volume
series.push({type:'bar', xAxisIndex:1, yAxisIndex:1, barWidth:11, silent:true,
  data: vol.map((v,i)=>({value:v, itemStyle: isUp(i) ? {color:'#000', borderColor:RED, borderWidth:1} : {color:CYAN}}))});
series.push(ln(1, volMa20, GRN));
series.push(ln(1, volMa10, MAG));
series.push(ln(1, volMa5, YEL));
// SVZJ
series.push({type:'bar', xAxisIndex:2, yAxisIndex:2, barWidth:6, silent:true,
  data: svzj.map(v=>({value:v, itemStyle:{color: v>=0?RED:GRN}}))});
// SVZL line + ticks
series.push(ln(3, svzl, WHITE, 2));
series.push({type:'custom', xAxisIndex:3, yAxisIndex:3, silent:true, z:4,
  data: svzl.map((v,i)=>[i, v, svzlTick[i]]),
  renderItem:(p, api)=>{ const d = api.value(2); if (!d) return null;
    const a = api.coord([api.value(0), api.value(1)]), b = api.coord([api.value(0), api.value(1)+d]);
    return {type:'line', shape:{x1:Math.round(a[0])+0.5, y1:a[1], x2:Math.round(a[0])+0.5, y2:b[1]}, style:{stroke: d>0?RED:CYAN, lineWidth:1}}; }});
// SVSH line + markers
series.push(ln(4, svsh, WHITE, 2));
series.push({type:'custom', xAxisIndex:4, yAxisIndex:4, silent:true, z:4,
  data: svsh.map((v,i)=>[i, v, svshTick[i]]),
  renderItem:(p, api)=>{ const d = api.value(2); if (!d) return null;
    const a = api.coord([api.value(0), api.value(1)]), b = api.coord([api.value(0), api.value(1)+d]);
    return {type:'rect', shape:{x:a[0]-2, y:Math.min(a[1],b[1]), width:4, height:Math.abs(b[1]-a[1])}, style:{fill: d>0?RED:GRN}}; }});
// AI活跃度
series.push({type:'custom', xAxisIndex:5, yAxisIndex:5, silent:true, z:2,
  data: aiAct.map((v,i)=>[i,v]),
  renderItem:(p, api)=>{ const i = api.value(0), v = api.value(1), t = aiActType[i];
    const b = api.coord([i,0]), a = api.coord([i,v]), c6 = api.coord([i,6]);
    const col = (t==='R'||t==='r') ? RED : GRN; const x = Math.round(b[0]-5.5);
    const ch = [];
    if (t==='R'||t==='G') {
      ch.push({type:'rect', shape:{x:x, y:a[1], width:11, height:b[1]-a[1]}, style:{fill:col}});
      if (v>6) ch.push({type:'rect', shape:{x:x, y:a[1], width:11, height:c6[1]-a[1]}, style:{fill:MAG}});
    } else {
      ch.push({type:'rect', shape:{x:x+0.5, y:a[1]+0.5, width:10, height:b[1]-a[1]-1}, style:{fill:'none', stroke:col, lineWidth:1}});
    }
    return {type:'group', children:ch}; }});
series.push(ln(5, aiAct, WHITE, 1, {z:5, markLine:{symbol:'none', silent:true, animation:false, label:{show:false}, data:[
  {yAxis:6.98, lineStyle:{color:RED, type:[3,3], width:1}},
  {yAxis:6.98, lineStyle:{color:GRN, type:[3,3], dashOffset:3, width:1}},
  {yAxis:6, lineStyle:{color:MAG, type:[3,3], width:1}},
  {yAxis:3, lineStyle:{color:RED, type:[3,3], width:1}},
  {yAxis:1.56, lineStyle:{color:WHITE, type:[3,3], width:1}}]}}));
// AI研究度
series.push({type:'bar', xAxisIndex:6, yAxisIndex:6, barWidth:11, silent:true,
  data: aiRes.map(v=>({value:v, itemStyle:{color: v>=0?RED:GRN}}))});
series.push(ln(6, aiResLine, GRN, 1));
// date axis dummy
series.push({type:'line', xAxisIndex:7, yAxisIndex:7, data:[], silent:true});
series.push({type:'line', xAxisIndex:8, yAxisIndex:7, data:[], silent:true});
// intraday
series.push({type:'line', xAxisIndex:9, yAxisIndex:8, data:tsPrice, symbol:'none', silent:true, lineStyle:{color:WHITE, width:1}, z:5,
  markLine:{symbol:'none', silent:true, animation:false, label:{show:false}, data:[
    {yAxis:89.73, lineStyle:{color:RED, type:[2,2], width:1}},
    {yAxis:88.66, lineStyle:{color:RED, type:'solid', width:1}},
    {yAxis:87.59, lineStyle:{color:RED, type:[2,2], width:1}},
    {xAxis:60, lineStyle:{color:RED, type:[2,2], width:1}},
    {xAxis:120, lineStyle:{color:RED, type:[2,2], width:1}},
    {xAxis:180, lineStyle:{color:RED, type:[2,2], width:1}}]}});
series.push({type:'line', xAxisIndex:9, yAxisIndex:8, data:tsAvg, symbol:'none', silent:true, lineStyle:{color:YEL, width:1}, z:4});
series.push({type:'bar', xAxisIndex:10, yAxisIndex:9, data:tsVol, barWidth:1.4, silent:true, itemStyle:{color:YEL}});
// pie
series.push({type:'pie', center:[1227,190], radius:[0,123], startAngle:90, clockwise:true, silent:true, animation:false,
  label:{show:false}, labelLine:{show:false}, emphasis:{disabled:true},
  itemStyle:{borderColor:RED, borderWidth:1},
  data: pieValues.map((v,k)=>({name:pieNames[k], value:v, itemStyle:{color:[RED,'#800000','#800000','#000000','#000000','#008080','#008080',CYAN][k]}}))});
// striped bar helper
function stripe(edge) {
  return {type:'linear', x:0, y:0, x2:1, y2:0, colorStops:[
    {offset:0,color:edge},{offset:0.14,color:edge},{offset:0.14,color:'#808080'},{offset:0.23,color:'#808080'},
    {offset:0.23,color:'#c0c0c0'},{offset:0.36,color:'#c0c0c0'},{offset:0.36,color:'#ffffff'},{offset:0.47,color:'#ffffff'},
    {offset:0.47,color:'#c0c0c0'},{offset:0.64,color:'#c0c0c0'},{offset:0.64,color:'#808080'},{offset:0.8,color:'#808080'},
    {offset:0.8,color:edge},{offset:1,color:edge}]};
}
const szCol = [RED,CYAN,CYAN,WHITE], szEdge=['#808080',CYAN,CYAN,WHITE];
series.push({type:'custom', xAxisIndex:11, yAxisIndex:10, silent:true, z:5,
  data: szNet.map((v,i)=>[i,v]),
  renderItem:(p, api)=>{ const i = api.value(0), v = api.value(1);
    const z0 = api.coord([i,0]), a = api.coord([i,v]); const x = z0[0]; const ch=[];
    if (v!==0) {
      const y1 = Math.min(z0[1],a[1]), h = Math.abs(a[1]-z0[1]);
      ch.push({type:'rect', shape:{x:x, y:y1, width:29.4, height:Math.max(h,1)}, style:{fill: stripe(szEdge[i])}});
      if (i===0) ch.push({type:'rect', shape:{x:x+27, y:y1, width:2.4, height:h}, style:{fill:RED}});
    }
    const ty = v>0 ? a[1]-9 : z0[1]-9;
    ch.push({type:'text', style:{text: v===0?'0':v.toFixed(2), x:x, y:ty, fill:szCol[i], font:F_ASC, textAlign:'left', textVerticalAlign:'middle', align:'left', verticalAlign:'middle'}});
    return {type:'group', children:ch}; },
  markLine:{symbol:'none', silent:true, animation:false, label:{show:false}, z:1, data:[
    {yAxis:596.99, lineStyle:{color:RED, type:[2,2], width:1}},
    {yAxis:209.85, lineStyle:{color:RED, type:[2,2], width:1}},
    {yAxis:0, lineStyle:{color:RED, type:'solid', width:1}},
    {yAxis:-177.29, lineStyle:{color:RED, type:[2,2], width:1}}]}});
const smCol = [GRN,BLUE,CYAN,RED];
series.push({type:'custom', xAxisIndex:12, yAxisIndex:11, silent:true, z:5,
  data: smPct.map((v,i)=>[i,v]),
  renderItem:(p, api)=>{ const i = api.value(0), v = api.value(1);
    const z0 = api.coord([i,0]), a = api.coord([i,v]); const x = z0[0];
    const ch = [{type:'rect', shape:{x:x, y:a[1], width:29.4, height:z0[1]-a[1]}, style:{fill: stripe(smCol[i])}}];
    if (smChg[i]) ch.push({type:'text', style:{text:smChg[i], x:x, y:a[1]-8.5, fill: smChg[i][0]==='+'?RED:GRN, font:F_ASC, textAlign:'left', textVerticalAlign:'middle', align:'left', verticalAlign:'middle'}});
    ch.push({type:'text', style:{text:v.toFixed(2), x:x, y:z0[1]+9.3, fill:smCol[i], font:F_ASC, textAlign:'left', textVerticalAlign:'middle', align:'left', verticalAlign:'middle'}});
    return {type:'group', children:ch}; },
  markLine:{symbol:'none', silent:true, animation:false, label:{show:false}, z:1, data:[
    {yAxis:75, lineStyle:{color:RED, type:[2,2], width:1}},
    {yAxis:50, lineStyle:{color:RED, type:[2,2], width:1}},
    {yAxis:25, lineStyle:{color:RED, type:[2,2], width:1}},
    {yAxis:0, lineStyle:{color:RED, type:'solid', width:1}}]}});

const chart = echarts.init(document.getElementById('main'), null, {renderer:'canvas'});
chart.setOption({
  backgroundColor:'#000', animation:false,
  grid: grids, xAxis: xAxes, yAxis: yAxes, series: series,
  graphic: {elements: G}
});
</script>
</body></html>
